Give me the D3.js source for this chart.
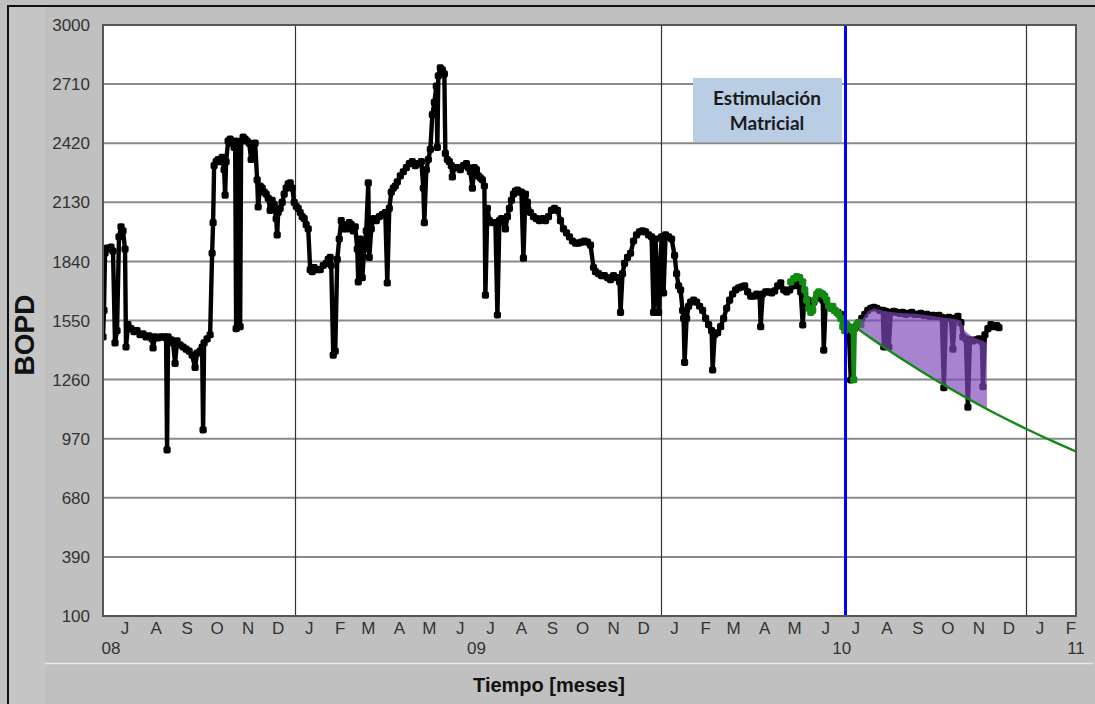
<!DOCTYPE html>
<html><head><meta charset="utf-8">
<script src="https://cdn.jsdelivr.net/npm/d3@7"></script>
<style>html,body{margin:0;padding:0;background:#c0c0c0;} svg{display:block;}</style>
</head><body><svg id="chart" width="1095" height="704"></svg>
<script>
// ---------------- DATA ----------------
const yTicks = [100, 390, 680, 970, 1260, 1550, 1840, 2130, 2420, 2710, 3000];
const monthLabels = ["J","A","S","O","N","D","J","F","M","A","M","J","J","A","S","O","N","D","J","F","M","A","M","J","J","A","S","O","N","D","J","F"];
const yearLabels = ["08", "09", "10", "11"];
const yearLabelDates = ["2008-07-01", "2009-07-01", "2010-07-01", "2011-02-20"];
const yearLineDates = ["2009-01-01", "2010-01-01", "2011-01-01"];
const xDomain = ["2008-06-23", "2011-02-20"];

// Measured oil rate (BOPD)
const prodDates = [
"2008-06-23","2008-06-24","2008-06-25","2008-06-27","2008-06-29","2008-07-01","2008-07-03","2008-07-05","2008-07-07","2008-07-09",
"2008-07-11","2008-07-13","2008-07-15","2008-07-16","2008-07-18","2008-07-21","2008-07-24","2008-07-27","2008-07-30","2008-08-02",
"2008-08-05","2008-08-08","2008-08-11","2008-08-12","2008-08-14","2008-08-17","2008-08-20","2008-08-23","2008-08-25","2008-08-26",
"2008-08-27","2008-08-30","2008-09-01","2008-09-03","2008-09-05","2008-09-08","2008-09-11","2008-09-14","2008-09-17","2008-09-20",
"2008-09-23","2008-09-25","2008-09-28","2008-09-30","2008-10-01","2008-10-02","2008-10-05","2008-10-08","2008-10-10","2008-10-11",
"2008-10-12","2008-10-14","2008-10-16","2008-10-18","2008-10-20","2008-10-22","2008-10-23","2008-10-24","2008-10-26","2008-10-28",
"2008-10-30","2008-11-01","2008-11-02","2008-11-03","2008-11-04","2008-11-06","2008-11-07","2008-11-08","2008-11-10","2008-11-12",
"2008-11-14","2008-11-16","2008-11-18","2008-11-20","2008-11-22","2008-11-24","2008-11-25","2008-11-27","2008-11-29","2008-12-01",
"2008-12-03","2008-12-05","2008-12-07","2008-12-09","2008-12-11","2008-12-13","2008-12-14","2008-12-15","2008-12-17","2008-12-19",
"2008-12-21","2008-12-23","2008-12-25","2008-12-27","2008-12-29","2008-12-31","2009-01-02","2009-01-04","2009-01-06","2009-01-08",
"2009-01-10","2009-01-12","2009-01-14","2009-01-16","2009-01-18","2009-01-20","2009-01-23","2009-01-26","2009-01-29","2009-02-01",
"2009-02-03","2009-02-05","2009-02-06","2009-02-08","2009-02-10","2009-02-12","2009-02-14","2009-02-16","2009-02-18","2009-02-20",
"2009-02-22","2009-02-24","2009-02-26","2009-02-28","2009-03-02","2009-03-04","2009-03-05","2009-03-07","2009-03-09","2009-03-11",
"2009-03-13","2009-03-15","2009-03-16","2009-03-18","2009-03-20","2009-03-23","2009-03-26","2009-03-29","2009-04-01","2009-04-03",
"2009-04-05","2009-04-07","2009-04-09","2009-04-11","2009-04-13","2009-04-16","2009-04-19","2009-04-22","2009-04-25","2009-04-28",
"2009-05-01","2009-05-04","2009-05-07","2009-05-09","2009-05-10","2009-05-12","2009-05-14","2009-05-16","2009-05-18","2009-05-20",
"2009-05-22","2009-05-23","2009-05-24","2009-05-26","2009-05-28","2009-05-30","2009-05-31","2009-06-02","2009-06-04","2009-06-06",
"2009-06-07","2009-06-09","2009-06-12","2009-06-15","2009-06-18","2009-06-21","2009-06-23","2009-06-25","2009-06-27","2009-06-29",
"2009-07-01","2009-07-03","2009-07-05","2009-07-07","2009-07-09","2009-07-10","2009-07-12","2009-07-14","2009-07-17","2009-07-20",
"2009-07-22","2009-07-24","2009-07-26","2009-07-28","2009-07-30","2009-08-01","2009-08-03","2009-08-05","2009-08-07","2009-08-09",
"2009-08-11","2009-08-13","2009-08-15","2009-08-17","2009-08-19","2009-08-21","2009-08-24","2009-08-27","2009-08-30","2009-09-02",
"2009-09-05","2009-09-08","2009-09-11","2009-09-14","2009-09-17","2009-09-20","2009-09-23","2009-09-26","2009-09-29","2009-10-02",
"2009-10-05","2009-10-08","2009-10-11","2009-10-14","2009-10-17","2009-10-20","2009-10-23","2009-10-26","2009-10-28","2009-10-31",
"2009-11-03","2009-11-06","2009-11-09","2009-11-12","2009-11-15","2009-11-18","2009-11-21","2009-11-22","2009-11-24","2009-11-26",
"2009-11-29","2009-12-02","2009-12-05","2009-12-08","2009-12-11","2009-12-14","2009-12-17","2009-12-20","2009-12-23","2009-12-25",
"2009-12-27","2009-12-30","2010-01-02","2010-01-04","2010-01-06","2010-01-09","2010-01-12","2010-01-15","2010-01-17","2010-01-19",
"2010-01-21","2010-01-23","2010-01-24","2010-01-25","2010-01-27","2010-01-29","2010-01-31","2010-02-03","2010-02-06","2010-02-09",
"2010-02-12","2010-02-15","2010-02-18","2010-02-21","2010-02-22","2010-02-24","2010-02-27","2010-03-02","2010-03-05","2010-03-08",
"2010-03-11","2010-03-14","2010-03-17","2010-03-20","2010-03-23","2010-03-26","2010-03-29","2010-04-01","2010-04-04","2010-04-07",
"2010-04-10","2010-04-11","2010-04-13","2010-04-16","2010-04-19","2010-04-22","2010-04-25","2010-04-28","2010-05-01","2010-05-04",
"2010-05-07","2010-05-10","2010-05-13","2010-05-16","2010-05-19","2010-05-21","2010-05-23","2010-05-25","2010-05-28","2010-05-31",
"2010-06-03","2010-06-06","2010-06-09","2010-06-12","2010-06-13","2010-06-15","2010-06-18","2010-06-21","2010-06-24","2010-06-27",
"2010-06-30","2010-07-03","2010-07-06","2010-07-08","2010-07-10","2010-07-12","2010-07-15","2010-07-18","2010-07-21","2010-07-24",
"2010-07-27","2010-07-30","2010-08-02","2010-08-05","2010-08-08","2010-08-11","2010-08-12","2010-08-14","2010-08-17","2010-08-19",
"2010-08-22","2010-08-25","2010-08-28","2010-08-31","2010-09-03","2010-09-06","2010-09-09","2010-09-12","2010-09-15","2010-09-18",
"2010-09-21","2010-09-24","2010-09-27","2010-09-30","2010-10-03","2010-10-06","2010-10-09","2010-10-11","2010-10-13","2010-10-16",
"2010-10-18","2010-10-20","2010-10-22","2010-10-25","2010-10-28","2010-10-30","2010-11-02","2010-11-04","2010-11-06","2010-11-09",
"2010-11-12","2010-11-15","2010-11-18","2010-11-19","2010-11-21","2010-11-24","2010-11-27","2010-11-30","2010-12-03","2010-12-05"
];
const prodBOPD = [
1470,1600,1880,1905,1900,1910,1890,1440,1500,1960,
2010,1990,1900,1420,1530,1510,1495,1500,1480,1485,
1470,1475,1460,1415,1470,1465,1470,1470,1465,915,
1470,1455,1440,1340,1450,1430,1420,1410,1400,1380,
1320,1390,1400,1420,1013,1440,1460,1480,1880,2030,
2310,2330,2340,2330,2350,2290,2165,2330,2430,2440,
2420,2400,2430,1510,2420,2250,1520,2430,2450,2440,
2430,2420,2340,2410,2420,2240,2107,2210,2200,2180,
2170,2150,2090,2140,2120,2050,1970,2080,2100,2130,
2170,2200,2220,2225,2200,2130,2110,2100,2080,2060,
2050,2020,2000,1800,1790,1810,1800,1800,1820,1830,
1850,1860,1820,1380,1400,1850,1950,2040,2000,2020,
2000,2030,2020,1990,2010,1900,1740,1950,1760,1900,
1990,2225,1860,2000,2050,2040,2060,2070,2080,1735,
2100,2180,2200,2210,2230,2260,2280,2300,2320,2330,
2310,2320,2330,2200,2030,2290,2340,2390,2560,2620,
2700,2400,2750,2790,2780,2760,2370,2340,2330,2310,
2255,2300,2300,2290,2310,2320,2300,2280,2200,2300,
2290,2260,2250,2240,2210,1675,2100,2040,2030,2030,
1577,2040,2050,2030,2000,2060,2100,2140,2170,2185,
2190,2180,2180,1856,2170,2130,2080,2060,2050,2040,
2050,2040,2060,2090,2100,2090,2040,2000,1980,1960,
1940,1930,1930,1935,1940,1935,1920,1810,1790,1780,
1770,1770,1760,1750,1770,1760,1740,1590,1780,1830,
1860,1880,1940,1970,1985,1990,1985,1970,1960,1590,
1950,1590,1960,1685,1970,1960,1950,1870,1780,1720,
1700,1600,1560,1345,1560,1620,1640,1650,1640,1620,
1600,1560,1530,1500,1307,1480,1490,1520,1560,1610,
1650,1680,1700,1710,1715,1720,1690,1670,1670,1680,
1670,1520,1680,1690,1690,1685,1695,1720,1735,1700,
1690,1700,1720,1740,1720,1690,1528,1680,1650,1620,
1640,1660,1670,1650,1405,1640,1620,1610,1600,1590,
1580,1540,1520,1500,1258,1510,1520,1540,1560,1580,
1600,1610,1615,1610,1600,1600,1420,1595,1420,1590,
1595,1590,1585,1590,1580,1585,1590,1580,1580,1585,
1575,1580,1570,1575,1570,1575,1565,1220,1560,1565,
1560,1410,1560,1570,1540,1470,1460,1125,1455,1450,
1455,1460,1445,1225,1480,1510,1530,1520,1525,1515
];

// History-matched segment (green markers)
const fitDates = [
"2010-05-11","2010-05-14","2010-05-17","2010-05-20","2010-05-23","2010-05-25","2010-05-27","2010-05-29","2010-05-31","2010-06-02",
"2010-06-04","2010-06-06","2010-06-08","2010-06-10","2010-06-12","2010-06-14","2010-06-16","2010-06-18","2010-06-20","2010-06-22",
"2010-06-24","2010-06-26","2010-06-28","2010-06-30","2010-07-02","2010-07-04","2010-07-06","2010-07-08","2010-07-10","2010-07-12",
"2010-07-13","2010-07-14","2010-07-16","2010-07-18","2010-07-20"
];
const fitBOPD = [
1740,1755,1765,1760,1740,1700,1650,1610,1590,1600,
1650,1680,1690,1685,1680,1670,1650,1620,1610,1620,
1600,1590,1580,1560,1520,1500,1530,1520,1510,1500,
1260,1510,1530,1540,1530
];

// Decline forecast without stimulation (green line)
const declineDates = ["2010-07-18","2010-08-01","2010-09-01","2010-10-01","2010-11-01","2010-12-01","2011-01-01","2011-02-01","2011-02-20"];
const declineBOPD = [1505, 1457, 1355, 1263, 1175, 1095, 1019, 948, 907];

// Upper edge of the incremental production area (purple)
const gainDates = ["2010-07-18","2010-07-21","2010-07-27","2010-08-02","2010-08-11","2010-08-21","2010-09-01","2010-09-11","2010-09-21","2010-10-01","2010-10-11","2010-10-21","2010-10-28","2010-11-01","2010-11-09","2010-11-18","2010-11-23"];
const gainBOPD = [1505, 1555, 1595, 1610, 1598, 1590, 1586, 1584, 1578, 1572, 1564, 1558, 1550, 1500, 1468, 1452, 1440];

const stimDate = "2010-07-04";
const stimLabel = ["Estimulación", "Matricial"];
const yTitle = "BOPD";
const xTitle = "Tiempo [meses]";

// ---------------- CHART ----------------
const parse = d3.timeParse("%Y-%m-%d");
const svg = d3.select("#chart");
const W = 1095, H = 704;
const plot = {left: 103, right: 1076, top: 25, bottom: 616};

const x = d3.scaleTime().domain(xDomain.map(parse)).range([plot.left, plot.right]);
const y = d3.scaleLinear().domain([100, 3000]).range([plot.bottom, plot.top]);

// background & frame
svg.append("rect").attr("x", 0).attr("y", 0).attr("width", W).attr("height", H).attr("fill", "#c0c0c0");
svg.append("rect").attr("x", 9).attr("y", 7).attr("width", 36).attr("height", H).attr("fill", "#c5c5c5");
svg.append("line").attr("x1", 45).attr("x2", 1093).attr("y1", 663.5).attr("y2", 663.5)
  .attr("stroke", "#e8e8e8").attr("stroke-width", 1.5);
svg.append("rect").attr("x", 8).attr("y", 6).attr("width", W + 10).attr("height", H + 10)
  .attr("fill", "none").attr("stroke", "#111").attr("stroke-width", 2);

// plot area
svg.append("rect").attr("x", plot.left).attr("y", plot.top)
  .attr("width", plot.right - plot.left).attr("height", plot.bottom - plot.top).attr("fill", "#fff");

svg.append("defs").append("clipPath").attr("id", "clip").append("rect")
  .attr("x", plot.left).attr("y", plot.top).attr("width", plot.right - plot.left).attr("height", plot.bottom - plot.top);

// horizontal grid
svg.append("g").selectAll("line").data(yTicks).join("line")
  .attr("x1", plot.left).attr("x2", plot.right)
  .attr("y1", d => y(d)).attr("y2", d => y(d))
  .attr("stroke", "#8a8a8a").attr("stroke-width", 2);

// vertical year lines
svg.append("g").selectAll("line").data(yearLineDates).join("line")
  .attr("x1", d => Math.round(x(parse(d))) + 0.5).attr("x2", d => Math.round(x(parse(d))) + 0.5)
  .attr("y1", plot.top).attr("y2", plot.bottom)
  .attr("stroke", "#333").attr("stroke-width", 1.2);

const g = svg.append("g").attr("clip-path", "url(#clip)");

// production
const prod = prodDates.map((d, i) => ({date: parse(d), v: prodBOPD[i]}));
const line = d3.line().x(d => x(d.date)).y(d => y(d.v));
g.append("path").datum(prod).attr("d", line).attr("fill", "none")
  .attr("stroke", "#000").attr("stroke-width", 4.4).attr("stroke-linejoin", "round");
g.append("g").selectAll("rect").data(prod).join("rect")
  .attr("x", d => x(d.date) - 3.6).attr("y", d => y(d.v) - 3.6)
  .attr("width", 7.2).attr("height", 7.2).attr("rx", 2).attr("fill", "#000");

// fit segment
const fit = fitDates.map((d, i) => ({date: parse(d), v: fitBOPD[i]}));
g.append("path").datum(fit).attr("d", line).attr("fill", "none")
  .attr("stroke", "#128a12").attr("stroke-width", 4.4).attr("stroke-linejoin", "round");
g.append("g").selectAll("rect").data(fit).join("rect")
  .attr("x", d => x(d.date) - 3.6).attr("y", d => y(d.v) - 3.6)
  .attr("width", 7.2).attr("height", 7.2).attr("rx", 2).attr("fill", "#128a12");

// incremental area
const decl = declineDates.map((d, i) => ({date: parse(d), v: declineBOPD[i]}));
const declAt = d3.scaleTime().domain(decl.map(d => d.date)).range(decl.map(d => d.v));
const gain = gainDates.map((d, i) => ({date: parse(d), v: gainBOPD[i]}));
const gStart = gain[0].date, gEnd = gain[gain.length - 1].date;
const bottomPts = [{date: gEnd, v: declAt(gEnd)}]
  .concat(decl.filter(d => d.date > gStart && d.date < gEnd).reverse())
  .concat([{date: gStart, v: declAt(gStart)}]);
const poly = gain.concat(bottomPts);
g.append("path").datum(poly)
  .attr("d", d3.line().x(d => x(d.date)).y(d => y(d.v)).curve(d3.curveLinearClosed))
  .attr("fill", "rgb(125,72,186)").attr("fill-opacity", 0.68);

// decline line
g.append("path").datum(decl)
  .attr("d", d3.line().x(d => x(d.date)).y(d => y(d.v)).curve(d3.curveMonotoneX))
  .attr("fill", "none").attr("stroke", "#128a12").attr("stroke-width", 2.4);

// stimulation marker
const xs = Math.round(x(parse(stimDate))) + 0.5;
svg.append("line").attr("x1", xs).attr("x2", xs).attr("y1", plot.top).attr("y2", plot.bottom)
  .attr("stroke", "#0000ff").attr("stroke-width", 3);

// annotation box
svg.append("rect").attr("x", 693).attr("y", 78).attr("width", 149).attr("height", 64).attr("fill", "#b9cde5");
svg.append("g").selectAll("text").data(stimLabel).join("text")
  .attr("x", 767).attr("y", (d, i) => 105 + i * 25)
  .attr("text-anchor", "middle")
  .attr("font-family", "Lato, 'Open Sans', sans-serif").attr("font-weight", "bold")
  .attr("font-size", 19).attr("fill", "#1a1a1a").text(d => d);

// plot border
svg.append("rect").attr("x", plot.left).attr("y", plot.top)
  .attr("width", plot.right - plot.left).attr("height", plot.bottom - plot.top)
  .attr("fill", "none").attr("stroke", "#555").attr("stroke-width", 2);

// y tick labels
svg.append("g").selectAll("text").data(yTicks).join("text")
  .attr("x", 90).attr("y", d => y(d)).attr("dy", "0.36em")
  .attr("text-anchor", "end").attr("font-family", "'Liberation Sans', Arial, sans-serif")
  .attr("font-size", 17).attr("fill", "#333").text(d => d);

// month labels
const months = d3.timeMonth.range(parse("2008-07-01"), parse("2011-03-01"));
svg.append("g").selectAll("text").data(months).join("text")
  .attr("x", d => x(d3.timeDay.offset(d, 14))).attr("y", 634)
  .attr("text-anchor", "middle").attr("font-family", "'Liberation Sans', Arial, sans-serif")
  .attr("font-size", 17).attr("fill", "#333").text((d, i) => monthLabels[i]);

// year labels
svg.append("g").selectAll("text").data(yearLabels).join("text")
  .attr("x", (d, i) => x(parse(yearLabelDates[i]))).attr("y", 654)
  .attr("text-anchor", "middle").attr("font-family", "'Liberation Sans', Arial, sans-serif")
  .attr("font-size", 17).attr("fill", "#333").text(d => d);

// axis titles
svg.append("text").attr("transform", "translate(34,335) rotate(-90)")
  .attr("text-anchor", "middle").attr("font-family", "'Liberation Sans', Arial, sans-serif")
  .attr("font-weight", "bold").attr("font-size", 28).attr("fill", "#111").text(yTitle);
svg.append("text").attr("x", 549).attr("y", 692)
  .attr("text-anchor", "middle").attr("font-family", "'Liberation Sans', Arial, sans-serif")
  .attr("font-weight", "bold").attr("font-size", 20).attr("fill", "#111").text(xTitle);
</script></body></html>
